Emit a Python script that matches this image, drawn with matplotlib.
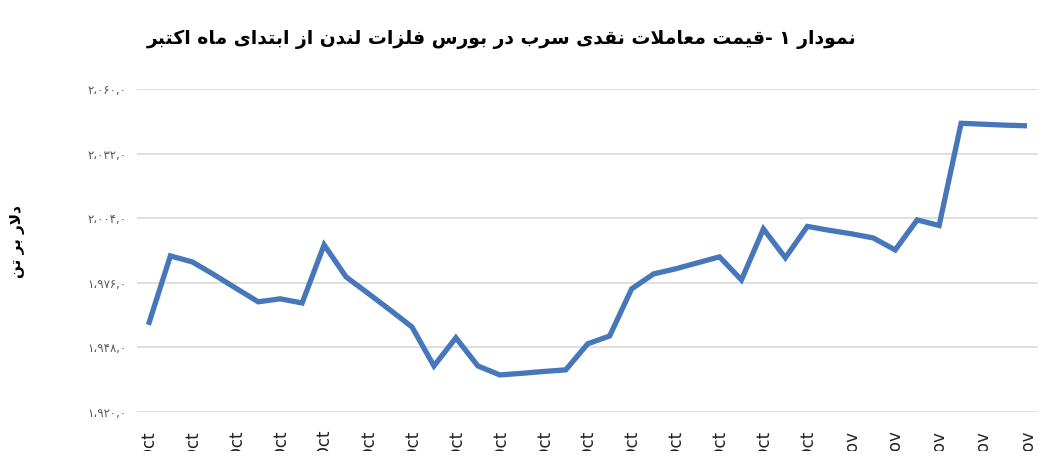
import numpy as np
import matplotlib.pyplot as plt
from matplotlib.transforms import Bbox, TransformedBbox


# Persian text helpers: matplotlib has no shaping / bidi, so pick the
# presentation forms by hand and reverse for display.
FORMS = {
    "ا": ("\uFE8D", "\uFE8E", None, None),
    "آ": ("\uFE81", "\uFE82", None, None),
    "ب": ("\uFE8F", "\uFE90", "\uFE91", "\uFE92"),
    "ت": ("\uFE95", "\uFE96", "\uFE97", "\uFE98"),
    "د": ("\uFEA9", "\uFEAA", None, None),
    "ر": ("\uFEAD", "\uFEAE", None, None),
    "ز": ("\uFEAF", "\uFEB0", None, None),
    "س": ("\uFEB1", "\uFEB2", "\uFEB3", "\uFEB4"),
    "ع": ("\uFEC9", "\uFECA", "\uFECB", "\uFECC"),
    "ف": ("\uFED1", "\uFED2", "\uFED3", "\uFED4"),
    "ق": ("\uFED5", "\uFED6", "\uFED7", "\uFED8"),
    "ل": ("\uFEDD", "\uFEDE", "\uFEDF", "\uFEE0"),
    "م": ("\uFEE1", "\uFEE2", "\uFEE3", "\uFEE4"),
    "ن": ("\uFEE5", "\uFEE6", "\uFEE7", "\uFEE8"),
    "ه": ("\uFEE9", "\uFEEA", "\uFEEB", "\uFEEC"),
    "و": ("\uFEED", "\uFEEE", None, None),
    "ی": ("\uFBFC", "\uFBFD", "\uFBFE", "\uFBFF"),
    "ک": ("\uFB8E", "\uFB8F", "\uFB90", "\uFB91"),
}
LAM_ALEF = {"ا": ("\uFEFB", "\uFEFC"), "آ": ("\uFEF5", "\uFEF6")}
DIGITS = "۰۱۲۳۴۵۶۷۸۹"


def joins_next(c):
    return c in FORMS and FORMS[c][2] is not None


def fa(text):
    out = []
    i, n = 0, len(text)
    while i < n:
        c = text[i]
        if c not in FORMS:
            out.append(c)
            i += 1
            continue
        prev = i > 0 and joins_next(text[i - 1])
        if c == "ل" and i + 1 < n and text[i + 1] in LAM_ALEF:
            out.append(LAM_ALEF[text[i + 1]][1 if prev else 0])
            i += 2
            continue
        nxt = joins_next(c) and i + 1 < n and text[i + 1] in FORMS
        f = FORMS[c]
        if prev and nxt:
            out.append(f[3])
        elif prev:
            out.append(f[1])
        elif nxt:
            out.append(f[2])
        else:
            out.append(f[0])
        i += 1
    # reverse for right-to-left, keep digit runs in order
    vis = "".join(out)[::-1]
    res, run = [], ""
    for ch in vis:
        if ch in DIGITS:
            run += ch
        else:
            res.append(run[::-1])
            run = ""
            res.append(ch)
    res.append(run[::-1])
    return "".join(res)


def fa_num(v):
    s = f"{v:,.1f}"
    s = s.replace(",", "،").replace(".", ",")
    return "".join(DIGITS[int(ch)] if ch.isdigit() else ch for ch in s)


# data: lead cash price on the LME, 1 Oct - 10 Nov (daily)
days = ([f"{d}-Oct" for d in range(1, 32)] +
        [f"{d}-Nov" for d in range(1, 11)])
price = [1957.7, 1987.6, 1985.0, 1979.4, 1973.5, 1967.7, 1969.0, 1967.2,
         1992.4, 1978.5, 1971.4, 1964.2, 1956.8, 1939.9, 1952.1, 1939.9,
         1936.0, 1936.7, 1937.5, 1938.2, 1949.5, 1952.9, 1973.3, 1979.8,
         1982.0, 1984.6, 1987.2, 1977.2, 1999.3, 1986.8, 2000.4, 1998.7,
         1997.2, 1995.4, 1990.2, 2003.2, 2000.8, 2045.1, 2044.7, 2044.3,
         2044.0]
y_ticks = [1920, 1948, 1976, 2004, 2032, 2060]

title = "نمودار ۱ -قیمت معاملات نقدی سرب در بورس فلزات لندن از ابتدای ماه اکتبر"
ylabel = "دلار بر تن"

plt.rcParams["font.family"] = ["DejaVu Sans"]

fig = plt.figure(figsize=(10.57, 4.68), dpi=100)
ax = fig.add_axes([0.130, 0.120, 0.852, 0.690])

x = np.arange(len(price))
ax.plot(x, price, color="#4677BA", lw=3.8, solid_joinstyle="miter",
        solid_capstyle="butt", zorder=3)

ax.set_xlim(-0.5, len(price) - 0.5)
ax.set_ylim(y_ticks[0], y_ticks[-1])
ax.set_yticks(y_ticks)
ax.set_yticklabels([fa_num(v) for v in y_ticks], fontsize=8.5, color="#595959")
ax.grid(axis="y", color="#D9D9D9", lw=1.2)
ax.set_axisbelow(True)
for s in ax.spines.values():
    s.set_visible(False)

ax.set_xticks(x[::2])
ax.set_xticklabels(days[::2], rotation=90, fontsize=12, color="#222222")
ax.tick_params(axis="both", length=0)
ax.tick_params(axis="x", pad=13)
ax.tick_params(axis="y", pad=8)

# the labels are cut off just under the axis in the original
clip = TransformedBbox(Bbox([[0, 17 / 468], [1, 1]]), fig.transFigure)
for lbl in ax.get_xticklabels():
    lbl.set_clip_box(clip)
    lbl.set_clip_on(True)

fig.text(0.475, 0.915, fa(title), ha="center", va="center",
         fontsize=13.5, fontweight="bold")
fig.text(0.017, 0.485, fa(ylabel), ha="center", va="center", rotation=90,
         fontsize=11, fontweight="bold")

fig.savefig("out.png", dpi=100)
